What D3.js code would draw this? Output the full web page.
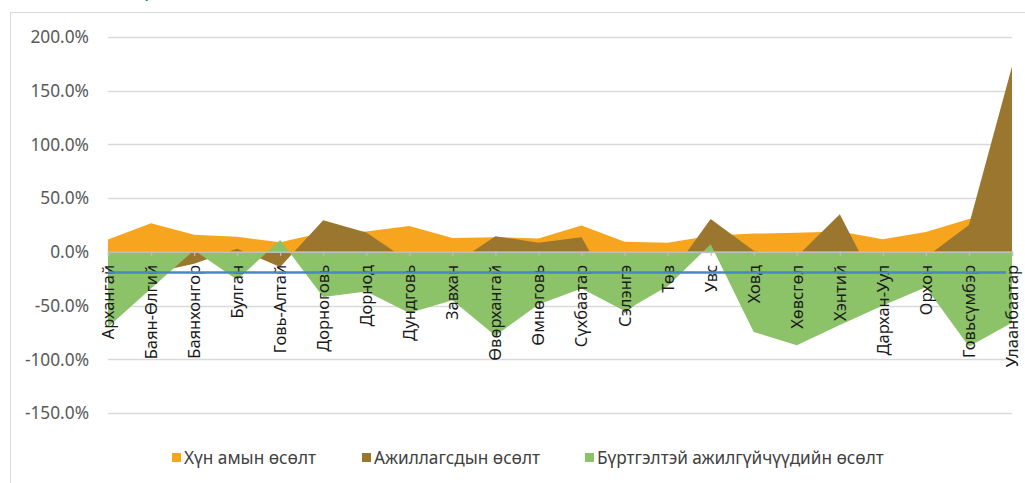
<!DOCTYPE html>
<html><head><meta charset="utf-8">
<script src="https://cdn.jsdelivr.net/npm/d3@7"></script>
<style>
html,body{margin:0;padding:0;background:#fff;}
svg{display:block;font-family:"Noto Sans","Open Sans",sans-serif;}
</style></head>
<body>
<svg id="chart" width="1025" height="483"></svg>
<script>
const categories = ["Архангай","Баян-Өлгий","Баянхонгор","Булган","Говь-Алтай","Дорноговь","Дорнод","Дундговь","Завхан","Өвөрхангай","Өмнөговь","Сүхбаатар","Сэлэнгэ","Төв","Увс","Ховд","Хөвсгөл","Хэнтий","Дархан-Уул","Орхон","Говьсүмбэр","Улаанбаатар"];
const populationGrowth = [11.5,26.7,16,14,9,18,19,24,13,13.7,12.4,24.5,9.3,8.4,15,17,17.7,19,11.8,18.6,30.7,32];
const employedGrowth = [-10,-20,-11,3,-14,29.5,18,-9,-12.4,14.6,8.4,13.7,-57,-25,30.5,1,-4.5,35,-42.8,-5,25,172.5];
const unemployedGrowth = [-70,-34,1.5,-26,11,-42,-37,-57,-45,-78,-49,-34,-55,-32,7,-74.5,-87,-68,-50,-33,-88,-66];
const averageLine = [-19.3,-19.3];
const yTicks = [-150,-100,-50,0,50,100,150,200];
const seriesNames = ["Хүн амын өсөлт","Ажиллагсдын өсөлт","Бүртгэлтэй ажилгүйчүүдийн өсөлт"];
const titleText = "Хүн ам, ажиллагсдын өсөлт";

const colors = ["#F7A41E","#9A762E","#8CC268"];
const svg = d3.select("#chart");

// outer chart border
svg.append("rect").attr("x",10.5).attr("y",12.5).attr("width",1040).attr("height",500)
  .attr("fill","none").attr("stroke","#D9D9D9").attr("stroke-width",1);

// title, mostly above the visible frame (as in the reference)
svg.append("text").attr("x",128).attr("y",-4).attr("fill","#2E75B6")
  .attr("font-size",22).text(titleText);

const x = d3.scalePoint().domain(categories).range([108,1012]);
const y = d3.scaleLinear().domain([-150,200]).range([413,37]);

// gridlines
svg.append("g").selectAll("line").data(yTicks).join("line")
  .attr("x1",108).attr("x2",1012)
  .attr("y1",d=>Math.round(y(d))+0.5).attr("y2",d=>Math.round(y(d))+0.5)
  .attr("stroke","#D9D9D9").attr("stroke-width",1.3);

// y axis labels
svg.append("g").selectAll("text").data(yTicks).join("text")
  .attr("x",89).attr("y",d=>y(d)).attr("dy","0.36em")
  .attr("text-anchor","end").attr("font-size",17.3).attr("fill","#595959")
  .text(d=>d.toFixed(1)+"%");

const area = d3.area().x((d,i)=>x(categories[i])).y0(y(0)).y1(d=>y(d));
[populationGrowth,employedGrowth,unemployedGrowth].forEach((s,k)=>{
  svg.append("path").datum(s).attr("d",area).attr("fill",colors[k]);
});

// zero axis with ticks
const xAxis = d3.axisBottom(x).tickSize(4).tickFormat("");
const gx = svg.append("g").attr("transform",`translate(0,${y(0)})`).call(xAxis);
gx.select(".domain").attr("stroke","#BFBFBF").attr("stroke-width",1.5);
gx.selectAll(".tick line").attr("stroke","#BFBFBF").attr("stroke-width",1.3);

// category labels
svg.append("g").selectAll("text").data(categories).join("text")
  .attr("transform",d=>`translate(${x(d)},${y(0)+13}) rotate(-90)`)
  .attr("dy","0.36em").attr("text-anchor","end")
  .attr("font-size",16.5).attr("fill","#1a1a1a").text(d=>d);

// average line
svg.append("line")
  .attr("x1",x(categories[0])).attr("x2",x(categories[categories.length-1])-6)
  .attr("y1",y(averageLine[0])).attr("y2",y(averageLine[1]))
  .attr("stroke","#4A86C8").attr("stroke-width",2.5);

// legend
const legX = [172,362,585];
const lg = svg.append("g");
seriesNames.forEach((n,i)=>{
  lg.append("rect").attr("x",legX[i]).attr("y",453).attr("width",9).attr("height",9).attr("fill",colors[i]);
  lg.append("text").attr("x",legX[i]+12).attr("y",457.5).attr("dy","0.36em")
    .attr("font-size",17.2).attr("fill","#404040").text(n);
});
</script>
</body></html>
